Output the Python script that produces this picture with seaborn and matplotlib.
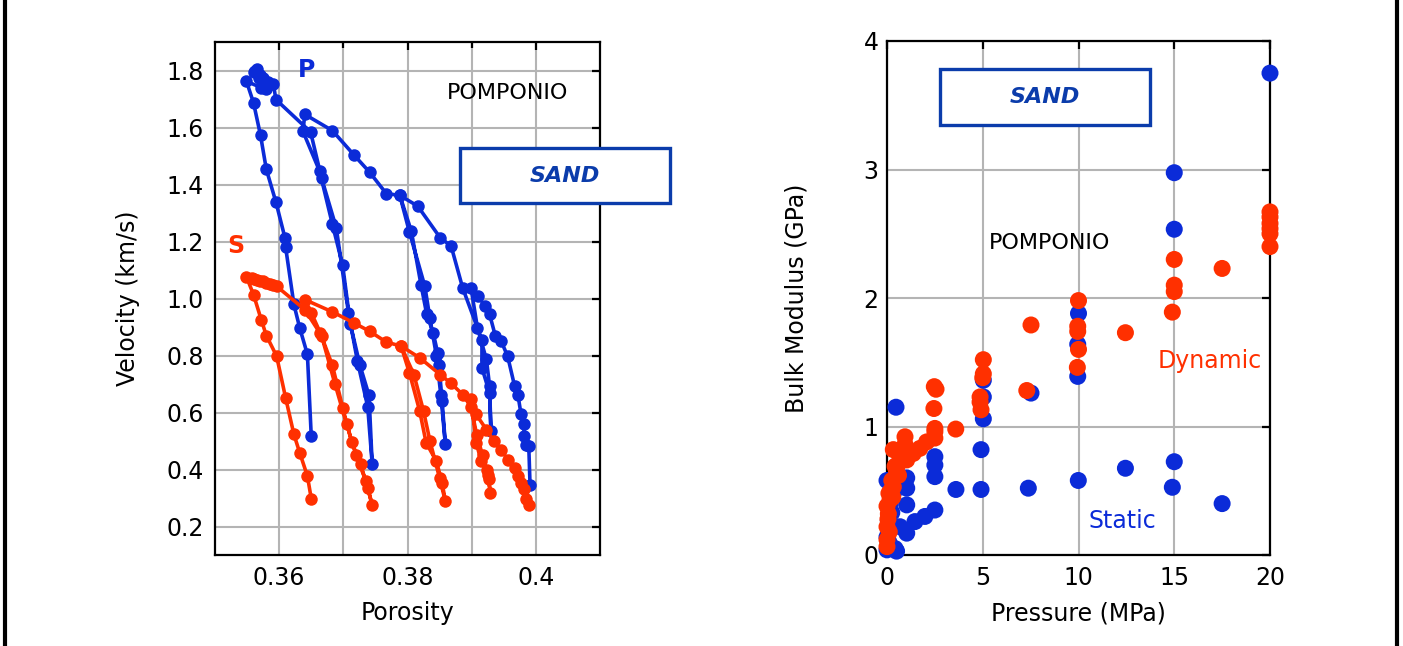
import matplotlib
matplotlib.use("Agg")
import matplotlib.pyplot as plt
import seaborn as sns
import numpy as np
from matplotlib.patches import Rectangle
from matplotlib.lines import Line2D
from matplotlib.ticker import MultipleLocator, FixedLocator

# ---------------- data: left panel (velocity vs porosity, loading/unloading path) ----------
p_porosity = [0.3991, 0.3989, 0.3985, 0.3982, 0.3981, 0.3977, 0.3972, 0.3967, 0.3956, 0.3946,
              0.3937, 0.3928, 0.3921, 0.3910, 0.3899,
              0.3909, 0.3923, 0.3928, 0.3930,
              0.3928, 0.3916, 0.3916, 0.3886,
              0.3868, 0.3851, 0.3816, 0.3788,
              0.3806, 0.3821, 0.3830, 0.3840, 0.3847, 0.3849, 0.3854, 0.3859,
              0.3852, 0.3845, 0.3835, 0.3827, 0.3803, 0.3788,
              0.3767, 0.3741, 0.3716, 0.3683, 0.3640,
              0.3637, 0.3663, 0.3683, 0.3699, 0.3711, 0.3726, 0.3740, 0.3745,
              0.3738, 0.3722, 0.3708, 0.3689, 0.3666, 0.3649,
              0.3595, 0.3591, 0.3586, 0.3582, 0.3575, 0.3570, 0.3565, 0.3562, 0.3560,
              0.3568, 0.3575, 0.3580, 0.3572, 0.3549,
              0.3560, 0.3571, 0.3580, 0.3595, 0.3609, 0.3610, 0.3623, 0.3632, 0.3644, 0.3650]
p_velocity = [0.344, 0.482, 0.486, 0.517, 0.561, 0.593, 0.663, 0.692, 0.798, 0.850,
              0.868, 0.944, 0.973, 1.008, 1.037,
              0.897, 0.786, 0.692, 0.535,
              0.667, 0.757, 0.854, 1.037,
              1.184, 1.213, 1.324, 1.362,
              1.236, 1.049, 0.944, 0.880, 0.809, 0.768, 0.640, 0.488,
              0.660, 0.800, 0.930, 1.043, 1.233, 1.362,
              1.368, 1.443, 1.505, 1.589, 1.646,
              1.587, 1.447, 1.260, 1.116, 0.909, 0.765, 0.660, 0.418,
              0.620, 0.780, 0.950, 1.248, 1.423, 1.584,
              1.698, 1.751, 1.752, 1.760, 1.774, 1.785, 1.806, 1.800, 1.795,
              1.775, 1.745, 1.735, 1.740, 1.762,
              1.687, 1.572, 1.453, 1.338, 1.213, 1.181, 0.979, 0.897, 0.804, 0.517]

s_porosity = [0.3989, 0.3985, 0.3981, 0.3977, 0.3972, 0.3967, 0.3956, 0.3946, 0.3935, 0.3923,
              0.3907, 0.3899,
              0.3907, 0.3915, 0.3924, 0.3927, 0.3929,
              0.3925, 0.3917, 0.3908, 0.3899,
              0.3886, 0.3868, 0.3851, 0.3819, 0.3790,
              0.3803, 0.3819, 0.3829, 0.3845, 0.3854, 0.3859,
              0.3850, 0.3835, 0.3825, 0.3810, 0.3790,
              0.3767, 0.3741, 0.3716, 0.3683, 0.3640,
              0.3650, 0.3664, 0.3683, 0.3699, 0.3713, 0.3727, 0.3738, 0.3745,
              0.3735, 0.3720, 0.3705, 0.3687, 0.3666, 0.3640,
              0.3596, 0.3590, 0.3585, 0.3580, 0.3575, 0.3570, 0.3565, 0.3560, 0.3557, 0.3549,
              0.3560, 0.3572, 0.3580, 0.3596, 0.3610, 0.3623, 0.3632, 0.3644, 0.3650]
s_velocity = [0.277, 0.295, 0.330, 0.353, 0.377, 0.406, 0.435, 0.470, 0.499, 0.540,
              0.593, 0.646,
              0.494, 0.429, 0.400, 0.365, 0.318,
              0.380, 0.450, 0.520, 0.620,
              0.663, 0.702, 0.733, 0.792, 0.833,
              0.739, 0.605, 0.494, 0.429, 0.353, 0.289,
              0.370, 0.500, 0.605, 0.733, 0.833,
              0.847, 0.885, 0.915, 0.953, 0.996,
              0.950, 0.880, 0.765, 0.617, 0.496, 0.418, 0.336, 0.275,
              0.360, 0.450, 0.560, 0.700, 0.870, 0.961,
              1.043, 1.047, 1.052, 1.056, 1.060, 1.063, 1.066, 1.069, 1.072, 1.076,
              1.014, 0.926, 0.870, 0.798, 0.652, 0.523, 0.459, 0.377, 0.298]

# ---------------- data: right panel (bulk modulus vs pressure) ----------
static_pressure = [20.0, 15.0, 15.0, 10.0, 9.96, 9.96, 7.52, 5.03, 5.03, 5.03, 4.91, 4.91,
                   7.38, 9.99, 12.45, 15.0, 14.9, 17.5, 3.6, 2.5, 2.5, 2.5, 2.5, 1.98, 1.46,
                   1.03, 1.03, 1.03, 1.03, 0.68, 0.47, 0.0, 0.42, 0.0, 0.0, 0.07, 0.16, 0.33,
                   0.25, 0.5, 0.1]
static_modulus = [3.75, 2.975, 2.535, 1.88, 1.64, 1.39, 1.26, 1.36, 1.23, 1.06, 0.82, 0.51,
                  0.52, 0.58, 0.675, 0.726, 0.527, 0.40, 0.51, 0.765, 0.70, 0.61, 0.35, 0.30, 0.26,
                  0.60, 0.52, 0.39, 0.17, 0.22, 1.15, 0.58, 0.05, 0.04, 0.14, 0.27, 0.40, 0.48,
                  0.33, 0.03, 0.10]

dynamic_pressure = [20.0, 20.0, 20.0, 20.0, 20.0, 20.0, 15.0, 17.5, 15.0, 15.0, 14.9,
                    10.0, 9.96, 9.96, 10.0, 9.94, 7.52, 12.45, 5.03, 5.03, 5.0, 4.86, 4.86, 4.91,
                    7.3, 2.47, 2.56, 2.45, 3.59, 2.5, 2.5, 2.5, 2.07, 1.72, 1.37, 1.2, 0.94, 0.94,
                    0.33, 0.68, 0.5, 0.42, 0.33, 0.25, 0.16, 0.1, 0.07, 0.0, 0.0, 0.0, 0.0,
                    0.55, 0.8, 1.03, 0.2, 0.05, 0.12, 0.3, 0.6]
dynamic_modulus = [2.67, 2.63, 2.58, 2.54, 2.50, 2.40, 2.30, 2.23, 2.10, 2.05, 1.89,
                   1.98, 1.78, 1.74, 1.60, 1.46, 1.79, 1.73, 1.52, 1.41, 1.38, 1.23, 1.19, 1.13,
                   1.28, 1.31, 1.29, 1.14, 0.98, 0.985, 0.96, 0.91, 0.88, 0.83, 0.79, 0.80, 0.92, 0.86,
                   0.82, 0.74, 0.64, 0.69, 0.53, 0.58, 0.43, 0.48, 0.32, 0.22, 0.12, 0.065, 0.38,
                   0.70, 0.76, 0.74, 0.50, 0.28, 0.18, 0.45, 0.62]

BLUE = "#0b2bd8"
RED = "#ff3000"
BOX = "#0b3cab"

W, H = 1403, 646
sns.set_style("white")
plt.rcParams["font.family"] = ["DejaVu Sans"]
plt.rcParams["text.color"] = "black"
plt.rcParams["axes.labelcolor"] = "black"
plt.rcParams["xtick.color"] = "black"
plt.rcParams["ytick.color"] = "black"

fig = plt.figure(figsize=(W / 100, H / 100), dpi=100)


def fx(px):
    return px / W


def fy(py):
    return 1 - py / H


ax1 = fig.add_axes([fx(215), fy(555), (600 - 215) / W, (555 - 42) / H])
ax2 = fig.add_axes([fx(887), fy(555), (1270 - 887) / W, (555 - 41) / H])

# ---- left panel
sns.lineplot(x=p_porosity, y=p_velocity, sort=False, estimator=None, ax=ax1, color=BLUE,
             marker="o", markersize=9, markeredgewidth=0, linewidth=2.6, zorder=3)
sns.lineplot(x=s_porosity, y=s_velocity, sort=False, estimator=None, ax=ax1, color=RED,
             marker="o", markersize=9, markeredgewidth=0, linewidth=2.6, zorder=3)
ax1.set_xlim(0.35, 0.41)
ax1.set_ylim(0.1, 1.9)
ax1.xaxis.set_major_locator(FixedLocator([0.36, 0.38, 0.40]))
ax1.xaxis.set_minor_locator(FixedLocator([0.37, 0.39]))
ax1.set_xticklabels(["0.36", "0.38", "0.4"])
ax1.yaxis.set_major_locator(FixedLocator([0.2, 0.4, 0.6, 0.8, 1.0, 1.2, 1.4, 1.6, 1.8]))
ax1.set_yticklabels(["0.2", "0.4", "0.6", "0.8", "1.0", "1.2", "1.4", "1.6", "1.8"])
ax1.grid(True, which="both", color="#b4b4b4", linewidth=1.5, zorder=0)
ax1.set_xlabel("Porosity", fontsize=17, labelpad=8)
ax1.set_ylabel("Velocity (km/s)", fontsize=17, labelpad=19)

# ---- right panel
sns.scatterplot(x=static_pressure, y=static_modulus, ax=ax2, color=BLUE, s=150,
                linewidth=0, edgecolor="none", zorder=3, clip_on=False)
sns.scatterplot(x=dynamic_pressure, y=dynamic_modulus, ax=ax2, color=RED, s=150,
                linewidth=0, edgecolor="none", zorder=4, clip_on=False)
ax2.set_xlim(0, 20)
ax2.set_ylim(0, 4)
ax2.xaxis.set_major_locator(MultipleLocator(5))
ax2.yaxis.set_major_locator(MultipleLocator(1))
ax2.grid(True, which="major", color="#b4b4b4", linewidth=1.5, zorder=0)
ax2.set_xlabel("Pressure (MPa)", fontsize=17, labelpad=8)
ax2.set_ylabel("Bulk Modulus (GPa)", fontsize=17, labelpad=40)

for ax in (ax1, ax2):
    ax.set_axisbelow(True)
    for sp in ax.spines.values():
        sp.set_visible(True)
        sp.set_color("black")
        sp.set_linewidth(1.6)
    ax.tick_params(which="major", direction="in", length=6, width=1.6, labelsize=17,
                   top=True, right=True, pad=8, color="black", labelcolor="black")
    ax.tick_params(which="minor", direction="in", length=4, width=1.6,
                   top=True, right=True, color="black")
ax2.tick_params(axis="y", pad=6)

# ---- annotations
fig.text(fx(307), fy(70), "P", color=BLUE, fontsize=17, fontweight="bold", ha="center", va="center")
fig.text(fx(236), fy(246), "S", color=RED, fontsize=17, fontweight="bold", ha="center", va="center")
fig.text(fx(508), fy(93), "POMPONIO", color="black", fontsize=16, ha="center", va="center")
fig.text(fx(1050), fy(243), "POMPONIO", color="black", fontsize=16, ha="center", va="center")
fig.text(fx(1210), fy(361), "Dynamic", color=RED, fontsize=17, ha="center", va="center")
fig.text(fx(1122), fy(521), "Static", color=BLUE, fontsize=17, ha="center", va="center")

for (x0, y0, x1, y1) in [(460, 148, 670, 203), (940, 69, 1150, 125)]:
    fig.add_artist(Rectangle((fx(x0), fy(y1)), (x1 - x0) / W, (y1 - y0) / H,
                             transform=fig.transFigure, facecolor="white", edgecolor=BOX,
                             linewidth=2.4, zorder=10))
    fig.text(fx((x0 + x1) / 2), fy((y0 + y1) / 2), "SAND", color=BOX, fontsize=16,
             fontweight="bold", fontstyle="italic", ha="center", va="center", zorder=11)

# side borders
fig.add_artist(Line2D([fx(5), fx(5)], [0, 1], color="black", linewidth=3, transform=fig.transFigure))
fig.add_artist(Line2D([fx(1397), fx(1397)], [0, 1], color="black", linewidth=3, transform=fig.transFigure))

fig.savefig("out.png", dpi=100)
